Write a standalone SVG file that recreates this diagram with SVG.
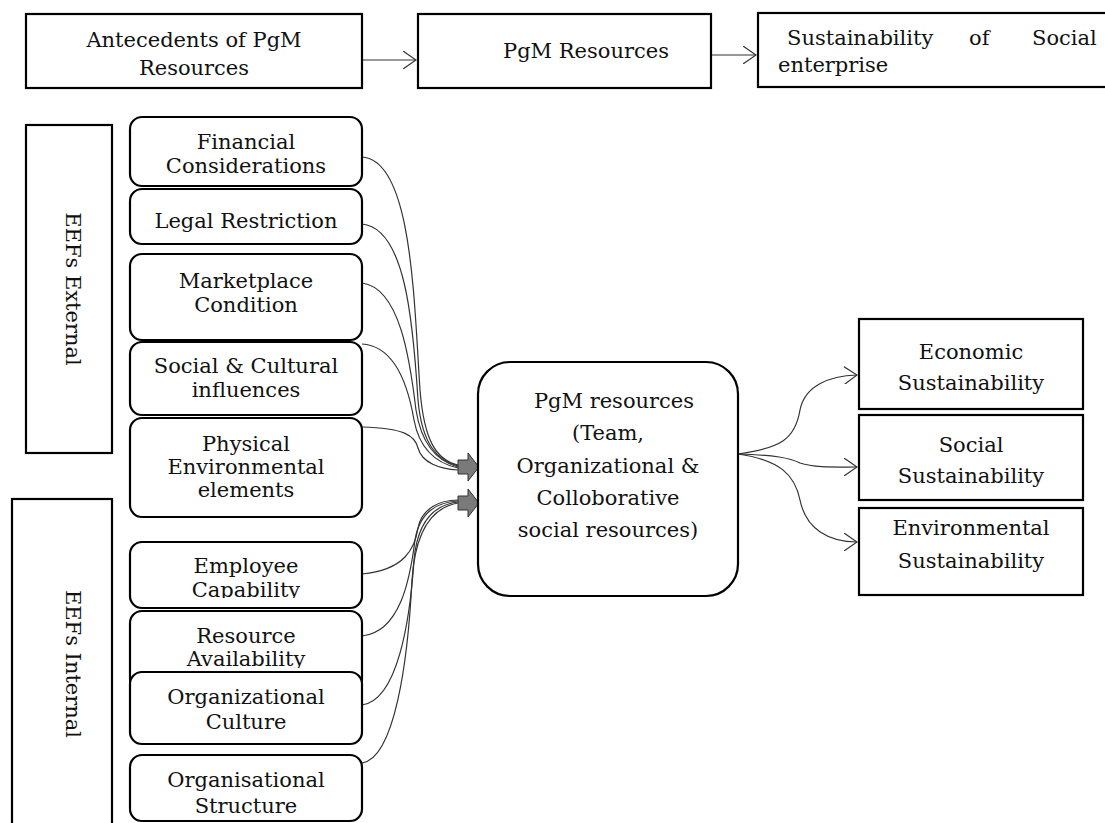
<svg xmlns="http://www.w3.org/2000/svg" width="1105" height="823" viewBox="0 0 1105 823">
<style>
.t{font-family:"DejaVu Serif","Liberation Serif",serif;font-size:21px;fill:#111;}
.m{text-anchor:middle;}
.box{fill:#fff;stroke:#000;stroke-width:2.2;}
.conn{fill:none;stroke:#333;stroke-width:1.2;}
.block{fill:#7a7a7a;stroke:#333;stroke-width:1;}
</style>
<defs>
<marker id="open" viewBox="0 0 14 18" refX="13" refY="9" markerWidth="14" markerHeight="18" markerUnits="userSpaceOnUse" orient="auto">
<path d="M0,0 L13,9 L0,18" fill="none" stroke="#333" stroke-width="1.2"/>
</marker>
<clipPath id="clipEmp"><rect x="130" y="540" width="232" height="58"/></clipPath>
<clipPath id="clipRes"><rect x="130" y="610" width="232" height="58"/></clipPath>
</defs>

<g id="connectors">
<path class="conn" d="M362,60 L416,60" marker-end="url(#open)"/>
<path class="conn" d="M711,55 L756,55" marker-end="url(#open)"/>
<path class="conn" d="M362,157 C412,160 414,300 420,390 C424,440 436,460 458,465"/>
<path class="conn" d="M362,224 C405,228 413,320 418,400 C422,445 438,461 458,466"/>
<path class="conn" d="M362,283 C400,288 410,360 416,410 C422,448 440,462 458,467"/>
<path class="conn" d="M362,344 C395,346 408,385 414,420 C420,452 440,464 458,468"/>
<path class="conn" d="M362,427 C405,428 415,436 418,448 C422,463 440,469 458,470"/>
<path class="conn" d="M362,574 C405,570 415,548 418,528 C422,508 440,500 458,500"/>
<path class="conn" d="M362,636 C400,632 410,580 415,540 C420,510 440,502 458,501"/>
<path class="conn" d="M362,705 C398,700 410,620 414,560 C418,515 440,504 458,502"/>
<path class="conn" d="M362,763 C395,758 408,660 412,580 C416,520 440,506 458,503"/>
<path class="conn" d="M738,454 C780,448 795,440 800,410 C805,385 830,376 857,375" marker-end="url(#open)"/>
<path class="conn" d="M738,454 C775,455 790,458 800,463 C815,468 835,467 857,467" marker-end="url(#open)"/>
<path class="conn" d="M738,454 C780,460 795,475 800,500 C806,530 830,542 857,542" marker-end="url(#open)"/>
<path class="block" d="M458,460 L468,460 L468,453 L479,467 L468,481 L468,474 L458,474 Z"/>
<path class="block" d="M458,496 L468,496 L468,489 L479,503 L468,517 L468,510 L458,510 Z"/>
</g>

<g id="antecedents">
<rect class="box" x="26" y="14" width="336" height="74"/>
<text class="t m" x="194" y="47">Antecedents of PgM</text>
<text class="t m" x="194" y="75">Resources</text>
</g>
<g id="pgm-resources-top">
<rect class="box" x="418" y="14" width="293" height="74"/>
<text class="t" x="503" y="58">PgM Resources</text>
</g>
<g id="sustainability-top">
<rect class="box" x="758" y="13" width="360" height="74"/>
<text class="t" x="787" y="45">Sustainability</text>
<text class="t" x="969" y="45">of</text>
<text class="t" x="1032" y="45">Social</text>
<text class="t" x="778" y="72">enterprise</text>
</g>

<g id="eefs-external">
<rect class="box" x="26" y="125" width="86" height="328"/>
<text class="t m" transform="translate(66,289) rotate(90)" x="0" y="0">EEFs External</text>
</g>
<g id="eefs-internal">
<rect class="box" x="12" y="499" width="100" height="340"/>
<text class="t m" transform="translate(66,664) rotate(90)" x="0" y="0">EEFs Internal</text>
</g>

<g id="financial">
<rect class="box" x="130" y="117" width="232" height="69" rx="12"/>
<text class="t m" x="246" y="149">Financial</text>
<text class="t m" x="246" y="173">Considerations</text>
</g>
<g id="legal">
<rect class="box" x="130" y="189" width="232" height="55" rx="12"/>
<text class="t m" x="246" y="228">Legal Restriction</text>
</g>
<g id="marketplace">
<rect class="box" x="130" y="254" width="232" height="86" rx="12"/>
<text class="t m" x="246" y="288">Marketplace</text>
<text class="t m" x="246" y="312">Condition</text>
</g>
<g id="social-cultural">
<rect class="box" x="130" y="342" width="232" height="73" rx="12"/>
<text class="t m" x="246" y="373">Social &amp; Cultural</text>
<text class="t m" x="246" y="397">influences</text>
</g>
<g id="physical">
<rect class="box" x="130" y="418" width="232" height="99" rx="12"/>
<text class="t m" x="246" y="451">Physical</text>
<text class="t m" x="246" y="474">Environmental</text>
<text class="t m" x="246" y="497">elements</text>
</g>
<g id="employee">
<rect class="box" x="130" y="542" width="232" height="66" rx="12"/>
<g clip-path="url(#clipEmp)">
<text class="t m" x="246" y="573">Employee</text>
<text class="t m" x="246" y="597">Capability</text>
</g>
</g>
<g id="resource">
<rect class="box" x="130" y="611" width="232" height="80" rx="12"/>
<g clip-path="url(#clipRes)">
<text class="t m" x="246" y="643">Resource</text>
<text class="t m" x="246" y="666">Availability</text>
</g>
</g>
<g id="org-culture">
<rect class="box" x="130" y="672" width="232" height="72" rx="12"/>
<text class="t m" x="246" y="704">Organizational</text>
<text class="t m" x="246" y="729">Culture</text>
</g>
<g id="org-structure">
<rect class="box" x="130" y="755" width="232" height="66" rx="12"/>
<text class="t m" x="246" y="787">Organisational</text>
<text class="t m" x="246" y="813">Structure</text>
</g>

<g id="pgm-center">
<rect class="box" x="478" y="362" width="260" height="234" rx="32"/>
<text class="t m" x="614" y="408">PgM resources</text>
<text class="t m" x="608" y="440">(Team,</text>
<text class="t m" x="608" y="473">Organizational &amp;</text>
<text class="t m" x="608" y="505">Colloborative</text>
<text class="t m" x="608" y="537">social resources)</text>
</g>

<g id="economic">
<rect class="box" x="859" y="319" width="224" height="90"/>
<text class="t m" x="971" y="359">Economic</text>
<text class="t m" x="971" y="390">Sustainability</text>
</g>
<g id="social">
<rect class="box" x="859" y="415" width="224" height="85"/>
<text class="t m" x="971" y="452">Social</text>
<text class="t m" x="971" y="483">Sustainability</text>
</g>
<g id="environmental">
<rect class="box" x="859" y="508" width="224" height="87"/>
<text class="t m" x="971" y="535">Environmental</text>
<text class="t m" x="971" y="568">Sustainability</text>
</g>
</svg>
